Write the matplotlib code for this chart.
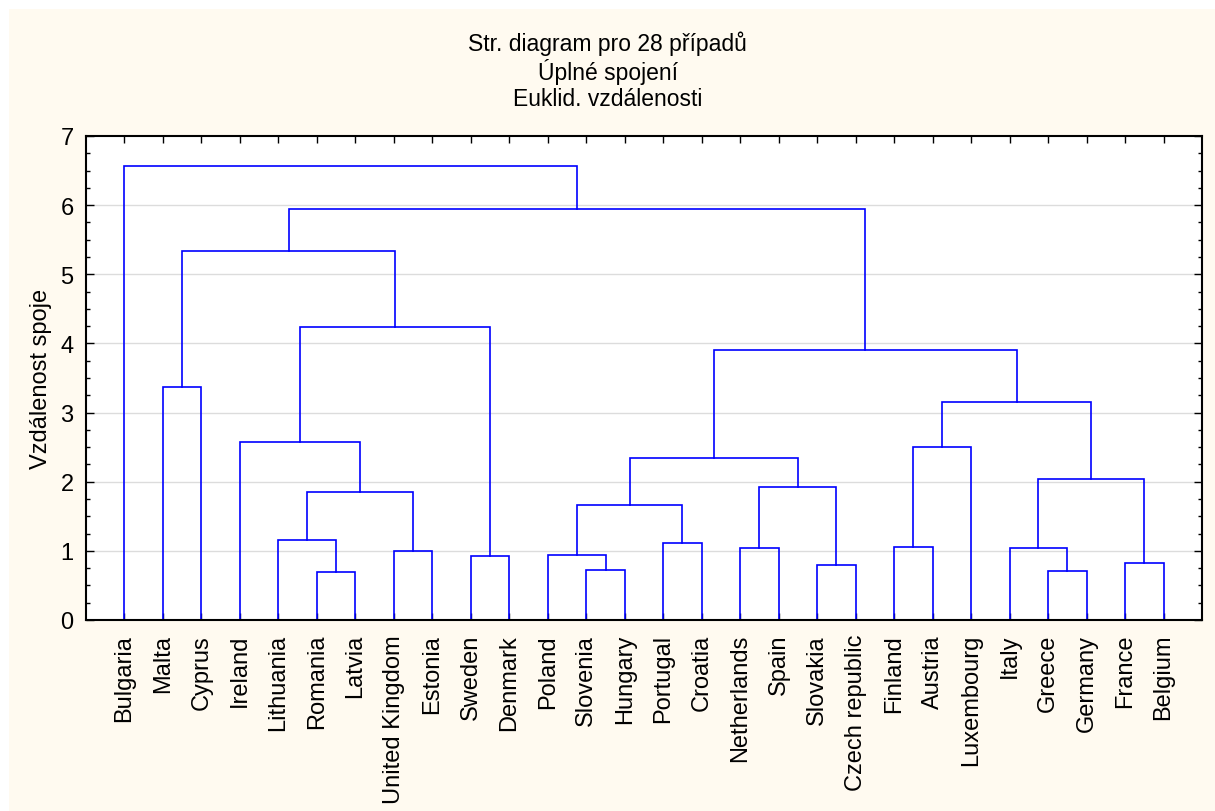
import numpy as np
import matplotlib
matplotlib.use('Agg')
import matplotlib.pyplot as plt
from matplotlib.patches import Rectangle
from matplotlib.ticker import MultipleLocator

plt.rcParams['font.family'] = ['Liberation Sans', 'DejaVu Sans']

# leaf order as drawn in the tree
countries = ['Bulgaria', 'Malta', 'Cyprus', 'Ireland', 'Lithuania', 'Romania',
             'Latvia', 'United Kingdom', 'Estonia', 'Sweden', 'Denmark',
             'Poland', 'Slovenia', 'Hungary', 'Portugal', 'Croatia',
             'Netherlands', 'Spain', 'Slovakia', 'Czech republic', 'Finland',
             'Austria', 'Luxembourg', 'Italy', 'Greece', 'Germany', 'France',
             'Belgium']

# linkage: clusters 0..27 are leaves, merge k creates cluster 28+k
left_child = [5, 24, 12, 18, 26, 9, 11, 7, 23, 16, 20, 14, 4, 34, 40, 37,
              36, 41, 38, 3, 46, 1, 45, 47, 49, 52, 0]
right_child = [6, 25, 13, 19, 27, 10, 30, 8, 29, 17, 21, 15, 28, 39, 35, 31,
               32, 43, 22, 42, 44, 2, 48, 33, 51, 50, 53]
link_dist = [0.69, 0.71, 0.72, 0.80, 0.83, 0.93, 0.94, 1.00, 1.04, 1.04, 1.06,
             1.12, 1.16, 1.66, 1.85, 1.93, 2.04, 2.35, 2.50, 2.58, 3.15, 3.37,
             3.91, 4.24, 5.34, 5.95, 6.57]

titles = ['Str. diagram pro 28 případů', 'Úplné spojení', 'Euklid. vzdálenosti']
ylabel = 'Vzdálenost spoje'

n = len(countries)
xpos = {i: i + 1.0 for i in range(n)}
ypos = {i: 0.0 for i in range(n)}
fs = 17

fig = plt.figure(figsize=(12.15, 8.12), dpi=100, facecolor='white')
fig.patches.append(Rectangle((9 / 1215, 0), 1 - 9 / 1215, 1 - 10 / 812,
                             transform=fig.transFigure, facecolor='#FFFAF0',
                             edgecolor='none', zorder=-10))
ax = fig.add_axes([86 / 1215, 1 - 621 / 812, (1202 - 86) / 1215, (621 - 137) / 812])
ax.set_facecolor('white')

for k, (a, b, h) in enumerate(zip(left_child, right_child, link_dist)):
    xa, xb = xpos[a], xpos[b]
    ax.plot([xa, xa, xb, xb], [ypos[a], h, h, ypos[b]], color='#0000FF',
            lw=1.2, solid_joinstyle='miter', zorder=3, clip_on=False)
    xpos[n + k] = (xa + xb) / 2
    ypos[n + k] = h

ax.set_xlim(0, n + 1)
ax.set_ylim(0, 7)
ax.set_xticks(np.arange(1, n + 1))
ax.set_xticklabels(countries, rotation=90, fontsize=fs)
ax.yaxis.set_major_locator(MultipleLocator(1))
ax.yaxis.set_minor_locator(MultipleLocator(0.25))
ax.tick_params(axis='y', labelsize=fs)
ax.tick_params(axis='x', which='major', direction='in', length=5, width=1,
               top=True, bottom=True, pad=10)
ax.tick_params(axis='y', which='major', direction='in', length=6, width=1,
               left=True, right=True, pad=9)
ax.tick_params(axis='y', which='minor', direction='in', length=3, width=1,
               left=True, right=True)
for s in ax.spines.values():
    s.set_linewidth(1.5)
    s.set_color('black')
    s.set_zorder(4)
for yv in range(1, 7):
    ax.axhline(yv, color='#DCDCDC', lw=1, zorder=1)

ax.set_ylabel(ylabel, fontsize=fs, labelpad=6)

for i, t in enumerate(titles):
    fig.text(0.5, 1 - (44 + 28 * i) / 812, t, ha='center', va='center',
             fontsize=16.5)

fig.savefig('out.png', dpi=100, facecolor=fig.get_facecolor())
